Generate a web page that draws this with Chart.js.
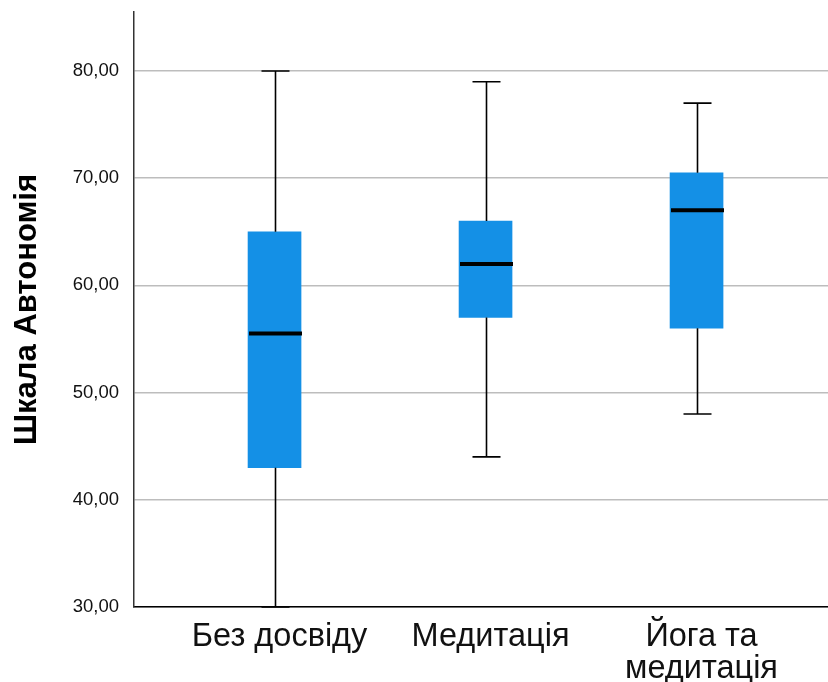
<!DOCTYPE html>
<html>
<head>
<meta charset="utf-8">
<script src="https://cdn.jsdelivr.net/npm/chart.js@4"></script>
<style>
  html, body { margin: 0; padding: 0; background: #fff; }
  #wrap { width: 828px; height: 682px; }
</style>
</head>
<body>
<div id="wrap"><canvas id="c" width="828" height="682"></canvas></div>
<script>
// Групи та п'ятичислові підсумки шкали «Автономія»
const categories = ['Без досвіду', 'Медитація', 'Йога та\nмедитація'];
const positions = [1, 2, 3];
const minimums = [30, 44, 48];
const lowerQuartiles = [43, 57, 56];
const medians = [55.5, 62, 67];
const upperQuartiles = [65, 66, 70.5];
const maximums = [80, 79, 77];
const yTicks = [30, 40, 50, 60, 70, 80];

const FONT = "'Liberation Sans', Arial, Helvetica, sans-serif";
const BOX_COLOR = '#1490e6';
const BOX_WIDTH = 53;
const CAP_WIDTH = 28;

// Вуса, засічки та медіана поверх прямокутників
const whiskerPlugin = {
  id: 'whiskers',
  afterDatasetsDraw(chart) {
    const { ctx, scales: { x, y } } = chart;
    ctx.save();
    positions.forEach((p, i) => {
      const cx = Math.round(x.getPixelForValue(p)) + 0.5;
      const yMin = y.getPixelForValue(minimums[i]);
      const yQ1 = y.getPixelForValue(lowerQuartiles[i]);
      const yQ3 = y.getPixelForValue(upperQuartiles[i]);
      const yMax = y.getPixelForValue(maximums[i]);
      const yMed = y.getPixelForValue(medians[i]);
      ctx.strokeStyle = '#000';
      ctx.lineWidth = 1.6;
      ctx.beginPath();
      ctx.moveTo(cx, yQ3); ctx.lineTo(cx, yMax);
      ctx.moveTo(cx, yQ1); ctx.lineTo(cx, yMin);
      ctx.moveTo(cx - CAP_WIDTH / 2, yMax); ctx.lineTo(cx + CAP_WIDTH / 2, yMax);
      ctx.moveTo(cx - CAP_WIDTH / 2, yMin); ctx.lineTo(cx + CAP_WIDTH / 2, yMin);
      ctx.stroke();
      ctx.lineWidth = 4;
      ctx.beginPath();
      ctx.moveTo(cx - BOX_WIDTH / 2, yMed); ctx.lineTo(cx + BOX_WIDTH / 2, yMed);
      ctx.stroke();
    });
    ctx.restore();
  }
};

new Chart(document.getElementById('c'), {
  type: 'bar',
  data: {
    datasets: [{
      data: positions.map((p, i) => ({ x: p, y: [lowerQuartiles[i], upperQuartiles[i]] })),
      backgroundColor: BOX_COLOR,
      borderWidth: 0,
      barThickness: BOX_WIDTH
    }]
  },
  plugins: [whiskerPlugin],
  options: {
    responsive: false,
    animation: false,
    layout: { padding: { top: 12, right: 0, left: 0, bottom: 0 } },
    plugins: { legend: { display: false }, tooltip: { enabled: false } },
    scales: {
      x: {
        type: 'linear',
        offset: false,
        min: 0.334,
        max: 3.623,
        afterBuildTicks: (s) => { s.ticks = positions.map(v => ({ value: v })); },
        afterFit: (s) => { s.height = 75; s.paddingLeft = 0; s.paddingRight = 0; },
        grid: { display: false, drawTicks: false, offset: false },
        border: { color: '#000', width: 1.5 },
        ticks: {
          padding: 14,
          labelOffset: 5,
          color: '#111',
          maxRotation: 0,
          autoSkip: false,
          font: { family: FONT, size: 32.5, lineHeight: 0.98 },
          callback: (v) => {
            const label = categories[positions.indexOf(v)] || '';
            return label.includes('\n') ? label.split('\n') : label;
          }
        }
      },
      y: {
        min: 30,
        max: 85.5,
        afterBuildTicks: (s) => { s.ticks = yTicks.map(v => ({ value: v })); },
        afterFit: (s) => { s.width = 134; s.paddingTop = 0; s.paddingBottom = 0; },
        grid: { color: '#bdbdbd', lineWidth: 1.5, drawTicks: false },
        border: { color: '#333', width: 1.5 },
        ticks: {
          padding: 15,
          color: '#111',
          font: { family: FONT, size: 18.5 },
          callback: (v) => v.toFixed(2).replace('.', ',')
        },
        title: {
          display: true,
          text: 'Шкала Автономія',
          color: '#000',
          font: { family: FONT, size: 31, weight: 'bold' },
          padding: { top: 9, bottom: 0 }
        }
      }
    }
  }
});
</script>
</body>
</html>
